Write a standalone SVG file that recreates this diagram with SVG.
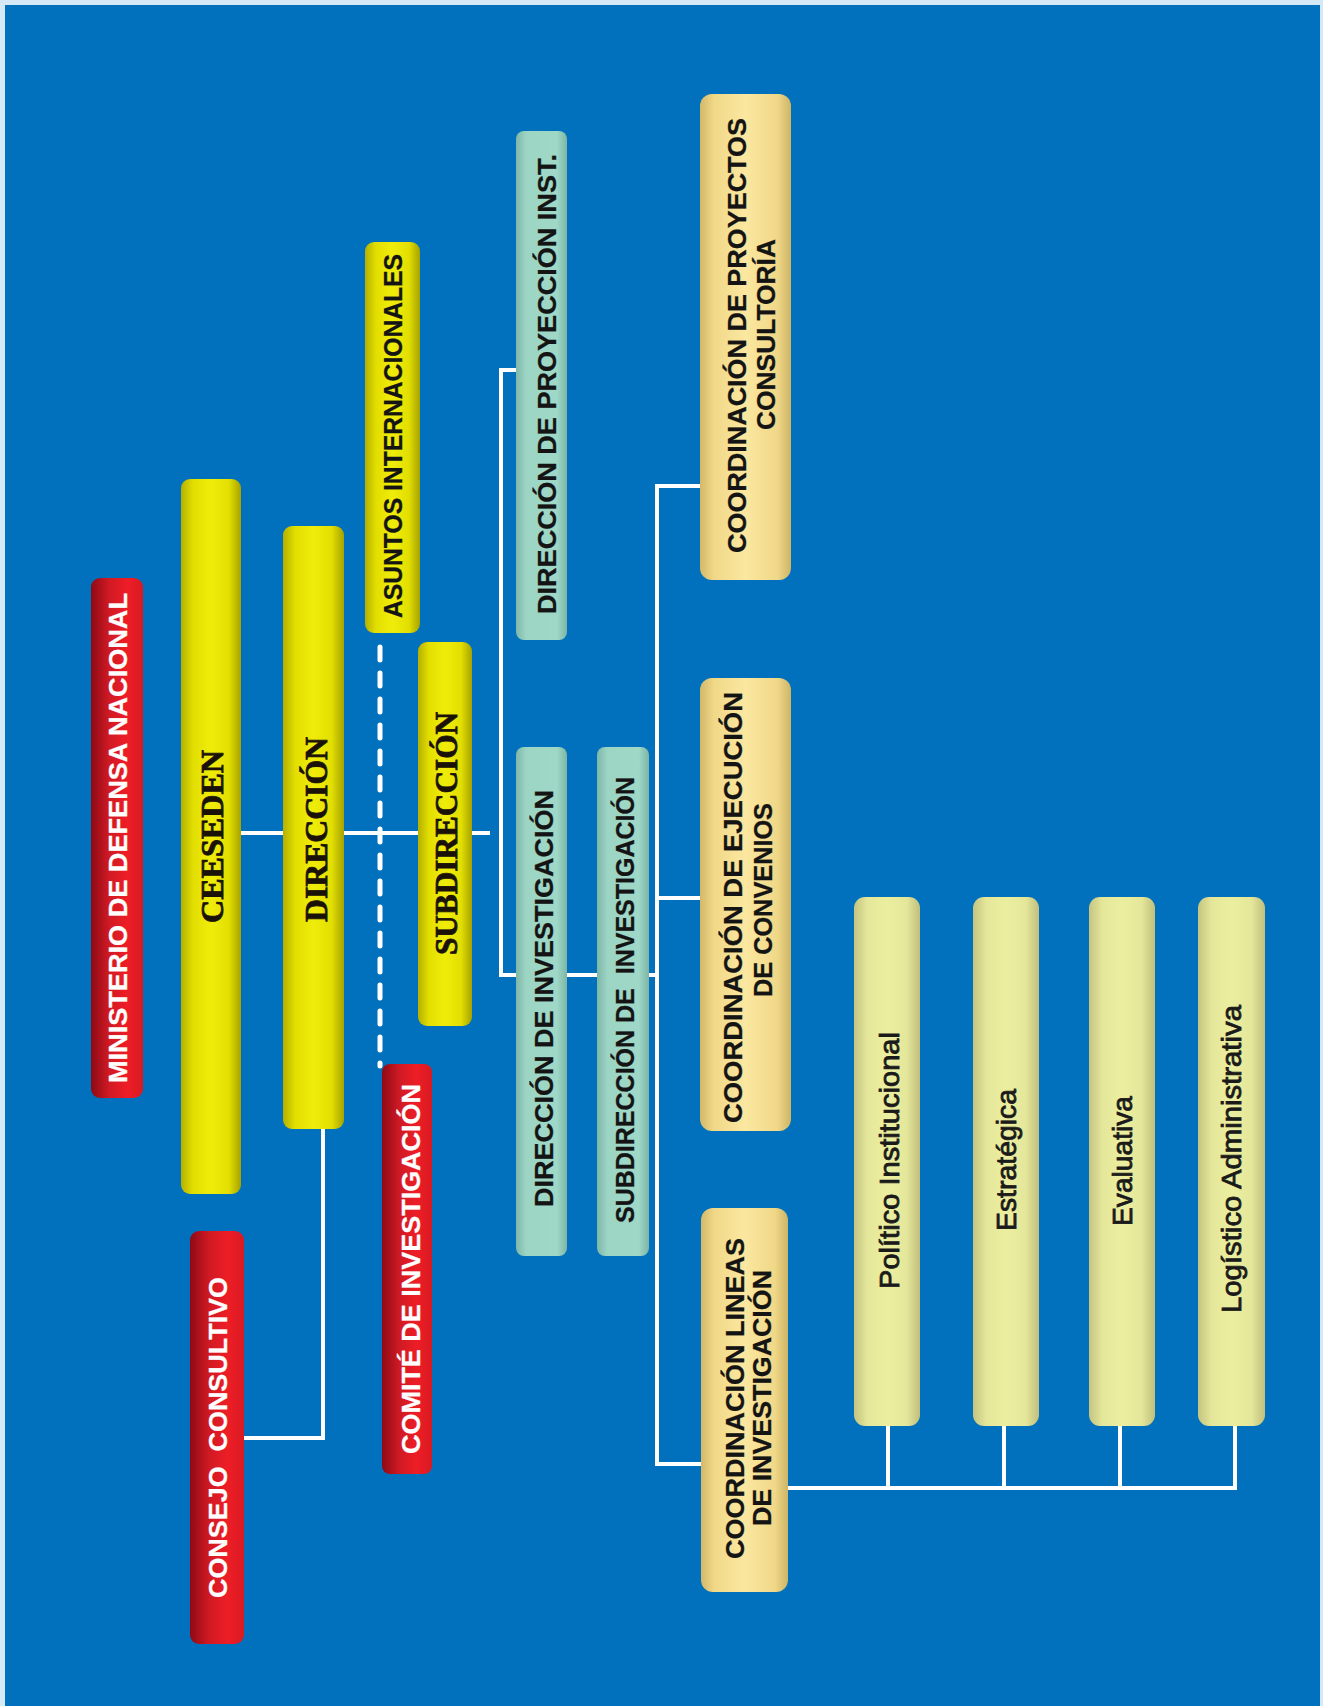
<svg xmlns="http://www.w3.org/2000/svg" width="1323" height="1706" viewBox="0 0 1323 1706">
<defs>
<linearGradient id="gRed" x1="0" y1="0" x2="1" y2="0">
<stop offset="0" stop-color="#8e0a15"/><stop offset="0.35" stop-color="#d01a24"/><stop offset="0.7" stop-color="#ee1d26"/><stop offset="1" stop-color="#d81a22"/>
</linearGradient>
<linearGradient id="gYel" x1="0" y1="0" x2="1" y2="0">
<stop offset="0" stop-color="#b4b000"/><stop offset="0.2" stop-color="#e2de00"/><stop offset="0.5" stop-color="#f0ec0a"/><stop offset="0.8" stop-color="#e2de00"/><stop offset="1" stop-color="#a6a200"/>
</linearGradient>
<linearGradient id="gTeal" x1="0" y1="0" x2="1" y2="0">
<stop offset="0" stop-color="#7db7a8"/><stop offset="0.2" stop-color="#9dd5c5"/><stop offset="0.8" stop-color="#a0d8c8"/><stop offset="1" stop-color="#7db5a6"/>
</linearGradient>
<linearGradient id="gTan" x1="0" y1="0" x2="1" y2="0">
<stop offset="0" stop-color="#d2b868"/><stop offset="0.15" stop-color="#f0d888"/><stop offset="0.5" stop-color="#fbe7a0"/><stop offset="0.85" stop-color="#f0d888"/><stop offset="1" stop-color="#cdb466"/>
</linearGradient>
<linearGradient id="gPale" x1="0" y1="0" x2="1" y2="0">
<stop offset="0" stop-color="#c4c480"/><stop offset="0.2" stop-color="#e4e69a"/><stop offset="0.5" stop-color="#ecee9f"/><stop offset="0.8" stop-color="#e4e69a"/><stop offset="1" stop-color="#c0bf7c"/>
</linearGradient>
<style>
.red{fill:url(#gRed)}
.yel{fill:url(#gYel)}
.teal{fill:url(#gTeal)}
.tan{fill:url(#gTan)}
.pale{fill:url(#gPale)}
.ln{stroke:#ffffff;stroke-width:4;fill:none}
.dash{stroke:#ffffff;stroke-width:5;fill:none;stroke-dasharray:13 13;stroke-linecap:round}
.tw{fill:#ffffff;font-family:"Liberation Sans",Arial,sans-serif;font-weight:bold;font-size:26px;stroke:#ffffff;stroke-width:0.3}
.tk{fill:#141414;font-family:"Liberation Sans",Arial,sans-serif;font-weight:bold;font-size:26px;stroke:#141414;stroke-width:0.3}
.ts{fill:#1a1208;font-family:"Liberation Serif","Times New Roman",serif;font-weight:bold;font-size:32px;stroke:#1a1208;stroke-width:0.8}
.tp{fill:#1a1a1a;font-family:"Liberation Sans",Arial,sans-serif;font-size:28px;stroke:#1a1a1a;stroke-width:0.8}
</style>
</defs>
<rect x="0" y="0" width="1323" height="1706" fill="#d6e9f6"/>
<rect x="5" y="5" width="1315" height="1701" fill="#0171bd"/>

<g id="connectors">
<path class="ln" d="M241 833 H490"/>
<path class="ln" d="M323 1129 V1438 H244"/>
<path class="dash" d="M380 647 V1066"/>
<path class="ln" d="M517 370 H501 V975 H657"/>
<path class="ln" d="M700 486 H657 V1464 H702"/>
<path class="ln" d="M657 898 H701"/>
<path class="ln" d="M787 1488 H1237"/>
<path class="ln" d="M888 1426 V1488 M1004 1426 V1488 M1120 1426 V1488 M1235 1426 V1488"/>
</g>

<g id="ministerio">
<rect class="red" x="91" y="578" width="52" height="520" rx="9"/>
<text class="tw" transform="translate(127 1083) rotate(-90)" textLength="490" lengthAdjust="spacingAndGlyphs">MINISTERIO DE DEFENSA NACIONAL</text>
</g>
<g id="ceeseden">
<rect class="yel" x="181" y="479" width="60" height="715" rx="9"/>
<text class="ts" transform="translate(223 923) rotate(-90)" textLength="173" lengthAdjust="spacingAndGlyphs">CEESEDEN</text>
</g>
<g id="direccion">
<rect class="yel" x="283" y="526" width="61" height="603" rx="9"/>
<text class="ts" transform="translate(327 922) rotate(-90)" textLength="185" lengthAdjust="spacingAndGlyphs">DIRECCIÓN</text>
</g>
<g id="asuntos">
<rect class="yel" x="365" y="242" width="55" height="391" rx="9"/>
<text class="tk" transform="translate(402 618) rotate(-90)" textLength="364" lengthAdjust="spacingAndGlyphs">ASUNTOS INTERNACIONALES</text>
</g>
<g id="subdireccion">
<rect class="yel" x="418" y="642" width="54" height="384" rx="9"/>
<text class="ts" transform="translate(457 955) rotate(-90)" textLength="243" lengthAdjust="spacingAndGlyphs">SUBDIRECCIÓN</text>
</g>
<g id="comite">
<rect class="red" x="382" y="1064" width="50" height="410" rx="8"/>
<text class="tw" transform="translate(420 1454) rotate(-90)" textLength="370" lengthAdjust="spacingAndGlyphs">COMITÉ DE INVESTIGACIÓN</text>
</g>
<g id="consejo">
<rect class="red" x="190" y="1231" width="54" height="413" rx="9"/>
<text class="tw" transform="translate(227 1598) rotate(-90)" textLength="321" lengthAdjust="spacingAndGlyphs" xml:space="preserve">CONSEJO  CONSULTIVO</text>
</g>
<g id="dir-proyeccion">
<rect class="teal" x="516" y="131" width="51" height="509" rx="8"/>
<text class="tk" transform="translate(556 614) rotate(-90)" textLength="460" lengthAdjust="spacingAndGlyphs">DIRECCIÓN DE PROYECCIÓN INST.</text>
</g>
<g id="dir-investigacion">
<rect class="teal" x="516" y="747" width="51" height="509" rx="8"/>
<text class="tk" transform="translate(553 1207) rotate(-90)" textLength="417" lengthAdjust="spacingAndGlyphs">DIRECCIÓN DE INVESTIGACIÓN</text>
</g>
<g id="subdir-investigacion">
<rect class="teal" x="597" y="747" width="52" height="509" rx="8"/>
<text class="tk" transform="translate(634 1223) rotate(-90)" textLength="446" lengthAdjust="spacingAndGlyphs" xml:space="preserve">SUBDIRECCIÓN DE  INVESTIGACIÓN</text>
</g>
<g id="coord-proyectos">
<rect class="tan" x="700" y="94" width="91" height="486" rx="12"/>
<text class="tk" transform="translate(746 553) rotate(-90)" textLength="435" lengthAdjust="spacingAndGlyphs">COORDINACIÓN DE PROYECTOS</text>
<text class="tk" transform="translate(775 430) rotate(-90)" textLength="191" lengthAdjust="spacingAndGlyphs">CONSULTORÍA</text>
</g>
<g id="coord-ejecucion">
<rect class="tan" x="700" y="678" width="91" height="453" rx="12"/>
<text class="tk" transform="translate(742 1123) rotate(-90)" textLength="431" lengthAdjust="spacingAndGlyphs">COORDINACIÓN DE EJECUCIÓN</text>
<text class="tk" transform="translate(772 997) rotate(-90)" textLength="194" lengthAdjust="spacingAndGlyphs">DE CONVENIOS</text>
</g>
<g id="coord-lineas">
<rect class="tan" x="701" y="1208" width="87" height="384" rx="12"/>
<text class="tk" transform="translate(744 1559) rotate(-90)" textLength="321" lengthAdjust="spacingAndGlyphs">COORDINACIÓN LINEAS</text>
<text class="tk" transform="translate(771 1526) rotate(-90)" textLength="256" lengthAdjust="spacingAndGlyphs">DE INVESTIGACIÓN</text>
</g>
<g id="politico">
<rect class="pale" x="854" y="897" width="66" height="529" rx="11"/>
<text class="tp" transform="translate(899 1289) rotate(-90)" textLength="257" lengthAdjust="spacingAndGlyphs">Político Institucional</text>
</g>
<g id="estrategica">
<rect class="pale" x="973" y="897" width="66" height="529" rx="11"/>
<text class="tp" transform="translate(1016 1231) rotate(-90)" textLength="142" lengthAdjust="spacingAndGlyphs">Estratégica</text>
</g>
<g id="evaluativa">
<rect class="pale" x="1089" y="897" width="66" height="529" rx="11"/>
<text class="tp" transform="translate(1132 1226) rotate(-90)" textLength="130" lengthAdjust="spacingAndGlyphs">Evaluativa</text>
</g>
<g id="logistico">
<rect class="pale" x="1198" y="897" width="67" height="529" rx="11"/>
<text class="tp" transform="translate(1241 1313) rotate(-90)" textLength="308" lengthAdjust="spacingAndGlyphs">Logístico Administrativa</text>
</g>
</svg>
